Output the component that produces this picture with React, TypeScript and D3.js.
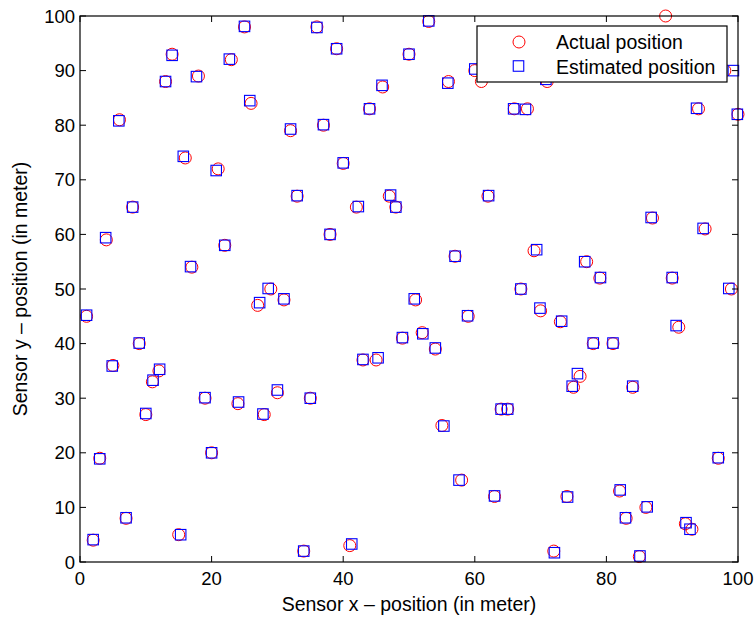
import React from "react";
import * as d3 from "d3";

const actualX = [25, 14, 23, 13, 18, 26, 6, 32, 16, 21, 33, 36, 39, 53, 50, 61, 46, 56, 44, 37, 66, 68, 40, 47, 62, 89, 71, 98, 94, 100, 8, 4, 22, 17, 29, 31, 27, 1, 9, 5, 12, 11, 42, 48, 38, 57, 67, 51, 59, 49, 52, 54, 43, 45, 87, 95, 69, 77, 79, 90, 99, 70, 73, 91, 78, 81, 76, 19, 24, 10, 28, 30, 35, 3, 20, 7, 2, 15, 34, 55, 64, 65, 58, 63, 41, 75, 84, 97, 74, 82, 86, 83, 92, 93, 72, 85, 60];
const actualY = [98, 93, 92, 88, 89, 84, 81, 79, 74, 72, 67, 98, 94, 99, 93, 88, 87, 88, 83, 80, 83, 83, 73, 67, 67, 100, 88, 90, 83, 82, 65, 59, 58, 54, 50, 48, 47, 45, 40, 36, 35, 33, 65, 65, 60, 56, 50, 48, 45, 41, 42, 39, 37, 37, 63, 61, 57, 55, 52, 52, 50, 46, 44, 43, 40, 40, 34, 30, 29, 27, 27, 31, 30, 19, 20, 8, 4, 5, 2, 25, 28, 28, 15, 12, 3, 32, 32, 19, 12, 13, 10, 8, 7, 6, 2, 1, 90];
const estX = [25, 14, 22.7, 13, 17.7, 25.8, 5.9, 32, 15.7, 20.7, 33, 36, 39, 53, 50, 61.5, 45.9, 55.9, 44, 37, 65.9, 67.7, 40, 47.2, 62.1, 89.5, 70.8, 99.3, 93.7, 99.9, 8, 3.9, 22, 16.8, 28.6, 31, 27.3, 1, 9, 4.9, 12.1, 11.1, 42.3, 48, 38, 57, 67, 50.8, 58.9, 49, 52.1, 54, 43, 45.3, 86.8, 94.7, 69.4, 76.7, 79.1, 90, 98.6, 69.9, 73.2, 90.6, 78, 81, 75.6, 19, 24.1, 10, 27.8, 30, 35, 3, 20, 7, 2, 15.3, 34, 55.3, 64, 65, 57.6, 63, 41.3, 74.8, 84, 97, 74.1, 82.1, 86.2, 82.9, 92.1, 92.7, 72.1, 85.1, 60];
const estY = [98.1, 92.8, 92.1, 88, 88.9, 84.5, 80.8, 79.3, 74.3, 71.7, 67.1, 97.9, 94, 99.1, 93, 89.5, 87.3, 87.7, 83, 80.1, 83, 82.9, 73.1, 67.2, 67.1, 95, 88.4, 90, 83.1, 82, 65, 59.4, 58, 54.1, 50.1, 48.2, 47.5, 45.2, 40.1, 35.9, 35.3, 33.3, 65.1, 65, 60, 56, 50, 48.2, 45.1, 41.1, 41.8, 39.2, 37.1, 37.4, 63.1, 61.1, 57.2, 55, 52.1, 52.1, 50.1, 46.5, 44.1, 43.3, 40.1, 40.1, 34.5, 30.1, 29.3, 27.2, 27.1, 31.5, 30, 18.9, 20, 8.1, 4.1, 5, 2, 24.9, 28, 28, 15, 12.1, 3.3, 32.2, 32.2, 19.1, 11.9, 13.2, 10.1, 8.1, 7.2, 6, 1.7, 1.1, 90.3];

const xTicks = [0, 20, 40, 60, 80, 100];
const yTicks = [0, 10, 20, 30, 40, 50, 60, 70, 80, 90, 100];
const legendLabels = ["Actual position", "Estimated position"];
const xLabel = "Sensor x \u2013 position (in meter)";
const yLabel = "Sensor y \u2013 position (in meter)";

export default function App() {
  const W = 756, H = 619;
  const left = 80, right = 738, top = 16, bottom = 562;
  const x = d3.scaleLinear().domain([0, 100]).range([left, right]);
  const y = d3.scaleLinear().domain([0, 100]).range([bottom, top]);
  const font = "'Liberation Sans', Arial, Helvetica, sans-serif";
  const r = 6;
  const s = 10.5;
  const tl = 6;
  const lg = { x0: 477, y0: 26, x1: 727, y1: 82 };
  return (
    <svg width={W} height={H} style={{ position: "absolute", left: 0, top: 0, background: "#fff" }} fontFamily={font}>
      <rect x={0} y={0} width={W} height={H} fill="#fff" />
      <rect x={left} y={top} width={right - left} height={bottom - top} fill="#fff" />
      {actualX.map((v, i) => (
        <circle key={"c" + i} cx={x(v)} cy={y(actualY[i])} r={r} fill="none" stroke="#ff0000" strokeWidth={1} />
      ))}
      {estX.map((v, i) => (
        <rect key={"s" + i} x={x(v) - s / 2} y={y(estY[i]) - s / 2} width={s} height={s} fill="none" stroke="#0000ff" strokeWidth={1.1} />
      ))}
      <rect x={left} y={top} width={right - left} height={bottom - top} fill="none" stroke="#000" strokeWidth={1.2} />
      {xTicks.map((t) => (
        <g key={"xt" + t}>
          <line x1={x(t)} x2={x(t)} y1={bottom} y2={bottom - tl} stroke="#000" />
          <line x1={x(t)} x2={x(t)} y1={top} y2={top + tl} stroke="#000" />
          <text x={x(t)} y={bottom + 23} textAnchor="middle" fontSize={18.5} fill="#000">{t}</text>
        </g>
      ))}
      {yTicks.map((t) => (
        <g key={"yt" + t}>
          <line x1={left} x2={left + tl} y1={y(t)} y2={y(t)} stroke="#000" />
          <line x1={right} x2={right - tl} y1={y(t)} y2={y(t)} stroke="#000" />
          <text x={left - 5} y={y(t) + 6.5} textAnchor="end" fontSize={18.5} fill="#000">{t}</text>
        </g>
      ))}
      <text x={(left + right) / 2} y={611} textAnchor="middle" fontSize={19.5} fill="#000">{xLabel}</text>
      <text transform={`translate(27, ${(top + bottom) / 2}) rotate(-90)`} textAnchor="middle" fontSize={19.5} fill="#000">{yLabel}</text>
      <rect x={lg.x0} y={lg.y0} width={lg.x1 - lg.x0} height={lg.y1 - lg.y0} fill="#fff" stroke="#000" strokeWidth={1.2} />
      <circle cx={519} cy={42} r={r} fill="none" stroke="#ff0000" />
      <rect x={518.5 - s / 2} y={66 - s / 2} width={s} height={s} fill="none" stroke="#0000ff" strokeWidth={1.1} />
      <text x={556} y={49} fontSize={19.5} fill="#000">{legendLabels[0]}</text>
      <text x={556} y={74} fontSize={19.5} fill="#000">{legendLabels[1]}</text>
    </svg>
  );
}
